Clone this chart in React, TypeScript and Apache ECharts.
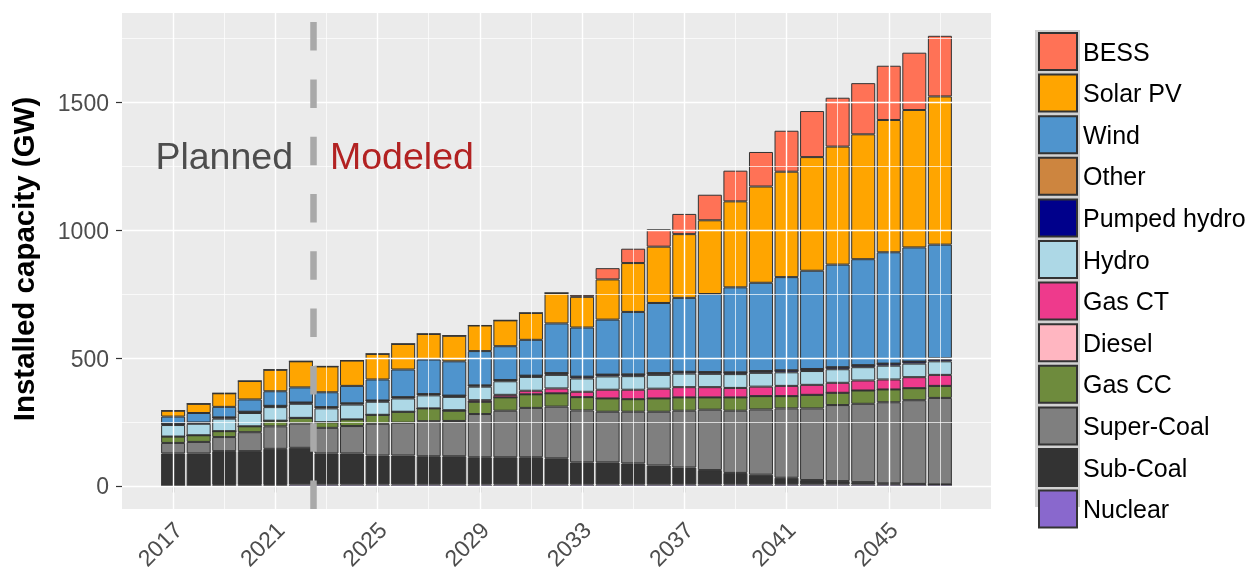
import React, { useEffect, useRef } from "react";
import * as echarts from "echarts";

const years = [2017, 2018, 2019, 2020, 2021, 2022, 2023, 2024, 2025, 2026, 2027, 2028, 2029, 2030, 2031, 2032, 2033, 2034, 2035, 2036, 2037, 2038, 2039, 2040, 2041, 2042, 2043, 2044, 2045, 2046, 2047];
// axis span (ggplot-style padding of two empty years each side)
const axisYears = [2015, 2016, ...years, 2048, 2049];

const nuclear = [0, 0, 6, 6, 6, 8, 8, 8, 8, 8, 8, 8, 8, 8, 8, 8, 8, 8, 8, 8, 8, 8, 8, 8, 8, 8, 8, 8, 8, 8, 8];
const subCoal = [129, 129, 132, 132, 141, 143, 121, 121, 113, 113, 110, 110, 106, 106, 106, 102, 86, 86, 82, 74, 66, 56, 45, 38, 26, 17, 13, 9, 4, 2, 0];
const superCoal = [41, 45, 55, 74, 88, 95, 100, 107, 124, 128, 137, 138, 169, 182, 193, 202, 203, 198, 202, 210, 222, 236, 243, 255, 271, 280, 297, 306, 317, 327, 338];
const gasCC = [25, 26, 23, 23, 22, 22, 22, 26, 35, 43, 50, 40, 48, 52, 53, 52, 52, 52, 49, 52, 52, 48, 52, 52, 48, 53, 48, 52, 50, 47, 47];
const diesel = [0, 0, 0, 0, 0, 0, 0, 0, 0, 0, 0, 0, 0, 0, 0, 0, 0, 0, 0, 0, 0, 0, 0, 0, 0, 0, 0, 0, 0, 0, 0];
const gasCT = [0, 0, 0, 0, 0, 0, 0, 0, 0, 0, 0, 2, 6, 10, 14, 19, 21, 34, 37, 38, 40, 40, 37, 37, 40, 39, 39, 39, 39, 43, 43];
const hydro = [45, 45, 49, 52, 53, 55, 54, 58, 51, 52, 51, 52, 53, 53, 54, 53, 52, 52, 53, 54, 53, 52, 54, 54, 53, 54, 53, 52, 54, 53, 53];
const pumpedHydro = [5, 5, 5, 5, 5, 5, 5, 5, 5, 5, 5, 5, 5, 5, 5, 7, 7, 7, 7, 7, 7, 7, 7, 7, 8, 8, 8, 8, 8, 8, 8];
const other = [0, 0, 0, 0, 0, 0, 0, 0, 0, 0, 0, 0, 0, 0, 0, 0, 0, 0, 0, 0, 0, 0, 0, 0, 0, 0, 0, 0, 0, 0, 4];
const wind = [28, 37, 41, 48, 57, 59, 58, 68, 82, 108, 135, 134, 134, 132, 140, 194, 192, 215, 244, 274, 289, 305, 332, 345, 364, 384, 401, 414, 435, 446, 444];
const solarPV = [23, 36, 53, 72, 84, 102, 101, 99, 100, 100, 100, 100, 100, 101, 105, 119, 120, 157, 191, 220, 249, 288, 336, 376, 412, 444, 461, 488, 517, 537, 579];
const bess = [0, 0, 0, 0, 0, 0, 0, 0, 0, 0, 0, 0, 0, 0, 0, 0, 8, 44, 56, 69, 79, 100, 120, 135, 160, 180, 191, 200, 212, 224, 237];

const xTickLabels = [2017, 2021, 2025, 2029, 2033, 2037, 2041, 2045];
const xMinorGrid = [2019, 2023, 2027, 2031, 2035, 2039, 2043, 2047];
const yTickLabels = [0, 500, 1000, 1500];
const yMinorGrid = [250, 750, 1250, 1750];
const boundaryYear = 2022.5;

// bottom-to-top stacking order
const stackSeries = [
  { name: "Nuclear", values: nuclear, color: "#8968CD" },
  { name: "Sub-Coal", values: subCoal, color: "#333333" },
  { name: "Super-Coal", values: superCoal, color: "#7F7F7F" },
  { name: "Gas CC", values: gasCC, color: "#6E8B3D" },
  { name: "Diesel", values: diesel, color: "#FFB6C1" },
  { name: "Gas CT", values: gasCT, color: "#EE3A8C" },
  { name: "Hydro", values: hydro, color: "#ADD8E6" },
  { name: "Pumped hydro", values: pumpedHydro, color: "#00008B" },
  { name: "Other", values: other, color: "#CD853F" },
  { name: "Wind", values: wind, color: "#4F94CD" },
  { name: "Solar PV", values: solarPV, color: "#FFA500" },
  { name: "BESS", values: bess, color: "#FF7256" },
];

const legendOrder = ["BESS", "Solar PV", "Wind", "Other", "Pumped hydro", "Hydro", "Gas CT", "Diesel", "Gas CC", "Super-Coal", "Sub-Coal", "Nuclear"];

const FONT = '"Liberation Sans", Arial, sans-serif';

export default function App() {
  const ref = useRef<HTMLDivElement>(null);

  useEffect(() => {
    if (!ref.current) return;
    const chart = echarts.init(ref.current, null, { renderer: "svg" });

    const yMin = -88.1;
    const yMax = 1850.1;
    const cats = axisYears.map(String);
    const isLabelYear = (_i: number, v: string) => xTickLabels.indexOf(Number(v)) >= 0;

    const gridLines = [
      ...xTickLabels.map((v) => ({ xAxis: String(v), lineStyle: { color: "#FFFFFF", width: 1.4, type: "solid" } })),
      ...xMinorGrid.map((v) => ({ xAxis: String(v), lineStyle: { color: "#FFFFFF", width: 0.7, type: "solid" } })),
      ...yTickLabels.map((v) => ({ yAxis: v, lineStyle: { color: "#FFFFFF", width: 1.4, type: "solid" } })),
      ...yMinorGrid.map((v) => ({ yAxis: v, lineStyle: { color: "#FFFFFF", width: 0.7, type: "solid" } })),
    ];

    const option: any = {
      animation: false,
      textStyle: { fontFamily: FONT },
      grid: {
        left: 122,
        right: 257,
        top: 13,
        bottom: 66,
        containLabel: false,
        outerBoundsMode: "none",
        show: true,
        backgroundColor: "#EBEBEB",
        borderWidth: 0,
      },
      xAxis: [
        {
          type: "category",
          data: cats,
          boundaryGap: false,
          axisLine: { show: false },
          splitLine: { show: false },
          axisTick: {
            show: true,
            length: 6,
            interval: isLabelYear,
            lineStyle: { color: "#333333", width: 1.2 },
          },
          axisLabel: {
            interval: isLabelYear,
            rotate: 45,
            fontSize: 23,
            lineHeight: 14,
            verticalAlign: "top",
            color: "#4D4D4D",
            margin: 12,
            fontFamily: FONT,
          },
        },
        {
          // continuous twin of the year axis, for the planned/modeled boundary
          type: "value",
          min: axisYears[0],
          max: axisYears[axisYears.length - 1],
          show: false,
        },
      ],
      yAxis: {
        type: "value",
        min: yMin,
        max: yMax,
        axisLine: { show: false },
        splitLine: { show: false },
        axisTick: {
          show: true,
          length: 6,
          lineStyle: { color: "#333333", width: 1.2 },
          customValues: yTickLabels,
        },
        axisLabel: {
          customValues: yTickLabels,
          fontSize: 23,
          color: "#4D4D4D",
          margin: 13,
          fontFamily: FONT,
          formatter: (v: number) => String(v),
        },
      },
      legend: {
        orient: "vertical",
        left: 1038,
        top: 32,
        itemWidth: 38,
        itemHeight: 37,
        itemGap: 2.6,
        padding: 0,
        icon: "rect",
        data: legendOrder,
        selectedMode: false,
        textStyle: { fontSize: 25, color: "#000000", fontFamily: FONT, padding: [0, 0, 0, 1] },
      },
      graphic: [
        {
          type: "rect",
          z: 0,
          shape: { x: 1035, y: 30, width: 45, height: 477 },
          style: { fill: "#D2D2D2" },
        },
        {
          type: "text",
          x: 293,
          y: 156,
          z: 20,
          style: {
            text: "Planned",
            fill: "#4D4D4D",
            fontSize: 37.5,
            fontFamily: FONT,
            align: "right",
            verticalAlign: "middle",
          },
        },
        {
          type: "text",
          x: 330,
          y: 156,
          z: 20,
          style: {
            text: "Modeled",
            fill: "#B22222",
            fontSize: 37.5,
            fontFamily: FONT,
            align: "left",
            verticalAlign: "middle",
          },
        },
        {
          type: "text",
          x: 23,
          y: 259,
          rotation: Math.PI / 2,
          style: {
            text: "Installed capacity (GW)",
            fill: "#000000",
            fontSize: 29.5,
            fontWeight: "bold",
            fontFamily: FONT,
            align: "center",
            verticalAlign: "middle",
          },
        },
      ],
      series: [
        {
          type: "line",
          z: 1,
          data: [],
          showSymbol: false,
          lineStyle: { opacity: 0 },
          silent: true,
          markLine: {
            silent: true,
            symbol: ["none", "none"],
            label: { show: false },
            emphasis: { disabled: true },
            data: gridLines,
          },
        },
        ...stackSeries.map((s) => ({
          name: s.name,
          type: "bar",
          stack: "total",
          z: 2,
          barWidth: 24,
          data: axisYears.map((y) => {
            const i = years.indexOf(y);
            return i >= 0 ? s.values[i] : "-";
          }),
          itemStyle: { color: s.color, borderColor: "#333333", borderWidth: 1 },
          emphasis: { disabled: true },
        })),
        {
          type: "line",
          xAxisIndex: 1,
          z: 10,
          data: [],
          showSymbol: false,
          lineStyle: { opacity: 0 },
          silent: true,
          markLine: {
            silent: true,
            z: 10,
            symbol: ["none", "none"],
            label: { show: false },
            emphasis: { disabled: true },
            data: [
              [
                { coord: [boundaryYear, yMin] },
                { coord: [boundaryYear, yMax] },
              ],
            ],
            lineStyle: { color: "#A9A9A9", width: 6.5, type: [28.5, 28.8], cap: "butt" },
          },
        },
      ],
    };

    chart.setOption(option);
    return () => chart.dispose();
  }, []);

  return (
    <div
      ref={ref}
      style={{ position: "fixed", left: 0, top: 0, width: 1248, height: 575 }}
    />
  );
}
